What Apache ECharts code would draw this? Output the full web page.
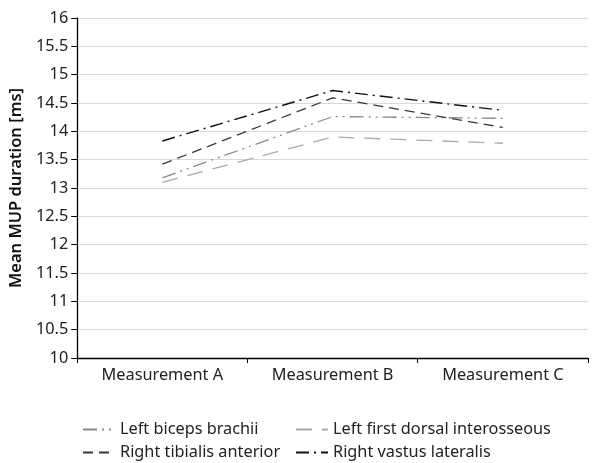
<!DOCTYPE html>
<html><head><meta charset="utf-8">
<script src="https://cdn.jsdelivr.net/npm/echarts@6/dist/echarts.min.js"></script>
<style>html,body{margin:0;padding:0;background:#fff}#c{width:595px;height:463px}</style>
</head><body><div id="c"></div>
<script>
const categories = ['Measurement A', 'Measurement B', 'Measurement C'];
const leftBicepsBrachii = [13.18, 14.26, 14.23];
const leftFirstDorsalInterosseous = [13.10, 13.90, 13.79];
const rightTibialisAnterior = [13.42, 14.59, 14.07];
const rightVastusLateralis = [13.83, 14.72, 14.37];
const yTicks = {min: 10, max: 16, interval: 0.5};

const font = 'Noto Sans';
const mk = (name, data, color, dash, w) => ({
  name, type: 'line', data, symbol: 'none', silent: true,
  lineStyle: {color, width: w, type: dash},
  itemStyle: {color}
});
const legendText = {fontSize: 16.3, lineHeight: 17, color: '#222', fontFamily: font};
const chart = echarts.init(document.getElementById('c'), null, {renderer: 'canvas'});
chart.setOption({
  animation: false,
  textStyle: {fontFamily: font},
  grid: {left: 75, right: 7, top: 18, bottom: 105},
  xAxis: {
    type: 'category', data: categories, boundaryGap: true,
    axisLine: {lineStyle: {color: '#000', width: 1.3}},
    axisTick: {show: true, length: 5, lineStyle: {color: '#000'}},
    axisLabel: {color: '#222', fontSize: 16.3, fontFamily: font, margin: 9}
  },
  yAxis: {
    type: 'value', min: yTicks.min, max: yTicks.max, interval: yTicks.interval,
    name: 'Mean MUP duration [ms]', nameLocation: 'middle', nameGap: 47,
    nameTextStyle: {color: '#111', fontSize: 16.5, fontWeight: 600, fontFamily: font},
    axisLine: {show: true, lineStyle: {color: '#000', width: 1.3}},
    axisTick: {show: true, length: 6, lineStyle: {color: '#000'}},
    axisLabel: {color: '#222', fontSize: 16.3, fontFamily: font, margin: 9},
    splitLine: {show: true, lineStyle: {color: '#d9d9d9', width: 1}}
  },
  legend: [
    {orient: 'vertical', left: 82, top: 421, height: 44, padding: 0, itemGap: 6, itemWidth: 32, itemHeight: 14,
     itemStyle: {opacity: 0}, textStyle: legendText,
     data: ['Left biceps brachii', 'Right tibialis anterior']},
    {orient: 'vertical', left: 295, top: 421, height: 44, padding: 0, itemGap: 6, itemWidth: 32, itemHeight: 14,
     itemStyle: {opacity: 0}, textStyle: legendText,
     data: ['Left first dorsal interosseous', 'Right vastus lateralis']}
  ],
  series: [
    mk('Left biceps brachii', leftBicepsBrachii, '#8a8a8a', [14, 5, 2, 5, 2, 5], 1.3),
    mk('Left first dorsal interosseous', leftFirstDorsalInterosseous, '#ababab', [16, 10], 1.3),
    mk('Right tibialis anterior', rightTibialisAnterior, '#3a3a3a', [10, 6], 1.3),
    mk('Right vastus lateralis', rightVastusLateralis, '#111', [13, 5, 2, 5], 1.4)
  ]
});
</script></body></html>
